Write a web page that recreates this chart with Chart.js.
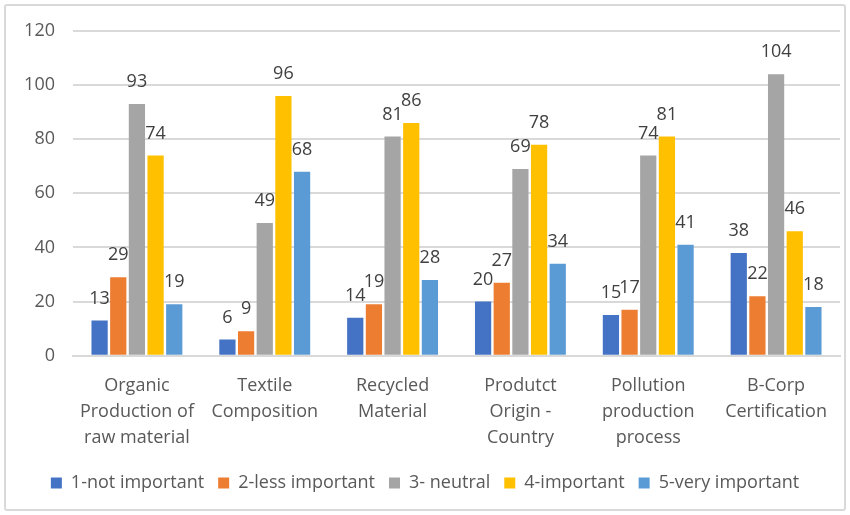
<!DOCTYPE html>
<html>
<head>
<meta charset="utf-8">
<script src="https://cdn.jsdelivr.net/npm/chart.js@4"></script>
<style>
  body { margin: 0; background: #fff; }
  #wrap { position: relative; width: 850px; height: 515px; }
  #frame { position: absolute; left: 4px; top: 4px; width: 838px; height: 503px;
           border: 2px solid #d9d9d9; border-radius: 3px; pointer-events: none; }
</style>
</head>
<body>
<div id="wrap">
  <canvas id="myChart" width="850" height="515"></canvas>
  <div id="frame"></div>
</div>
<script>
// categories (multi line labels like the original)
var categories = [
  ["Organic", "Production of", "raw material"],
  ["Textile", "Composition"],
  ["Recycled", "Material"],
  ["Produtct", "Origin -", "Country"],
  ["Pollution", "production", "process"],
  ["B-Corp", "Certification"]
];

var seriesNames = ["1-not important", "2-less important", "3- neutral", "4-important", "5-very important"];
var seriesColors = ["#4472C4", "#ED7D31", "#A5A5A5", "#FFC000", "#5B9BD5"];

var notImportant  = [13, 6, 14, 20, 15, 38];
var lessImportant = [29, 9, 19, 27, 17, 22];
var neutral       = [93, 49, 81, 69, 74, 104];
var important     = [74, 96, 86, 78, 81, 46];
var veryImportant = [19, 68, 28, 34, 41, 18];

var yTicks = [0, 20, 40, 60, 80, 100, 120];

var allSeries = [notImportant, lessImportant, neutral, important, veryImportant];
var textColor = "#595959";
var fontName = "Open Sans";
var fontSize = 18;

// draws the numbers above each bar
var barLabels = {
  id: "barLabels",
  afterDatasetsDraw: function(chart) {
    var ctx = chart.ctx;
    ctx.save();
    ctx.font = fontSize + "px " + fontName;
    ctx.fillStyle = "#404040";
    ctx.textAlign = "center";
    ctx.textBaseline = "middle";
    chart.data.datasets.forEach(function(ds, i) {
      var meta = chart.getDatasetMeta(i);
      meta.data.forEach(function(bar, j) {
        ctx.fillText(ds.data[j], bar.x, bar.y - 22);
      });
    });
    ctx.restore();
  }
};

var datasets = allSeries.map(function(vals, i) {
  return {
    label: seriesNames[i],
    data: vals,
    backgroundColor: seriesColors[i],
    barPercentage: 0.87,
    categoryPercentage: 0.73
  };
});

new Chart(document.getElementById("myChart"), {
  type: "bar",
  data: { labels: categories, datasets: datasets },
  plugins: [barLabels],
  options: {
    responsive: false,
    animation: false,
    layout: { padding: { top: 31, left: 10, right: 10, bottom: 13 } },
    plugins: {
      tooltip: { enabled: false },
      legend: {
        position: "bottom",
        labels: {
          boxWidth: 11, boxHeight: 11, padding: 14,
          color: textColor,
          font: { family: fontName, size: fontSize }
        }
      }
    },
    scales: {
      x: {
        grid: { display: false },
        border: { color: "#d9d9d9", width: 2 },
        ticks: {
          color: textColor, maxRotation: 0, autoSkip: false, padding: 9,
          font: { family: fontName, size: fontSize, lineHeight: 1.45 }
        }
      },
      y: {
        min: 0, max: 120,
        afterBuildTicks: function(axis) {
          axis.ticks = yTicks.map(function(v) { return { value: v }; });
        },
        afterFit: function(axis) { axis.width = 63; },
        grid: { color: "#d9d9d9", lineWidth: 2, drawTicks: false },
        border: { display: false },
        ticks: {
          color: textColor, padding: 18,
          font: { family: fontName, size: fontSize }
        }
      }
    }
  }
});
</script>
</body>
</html>
